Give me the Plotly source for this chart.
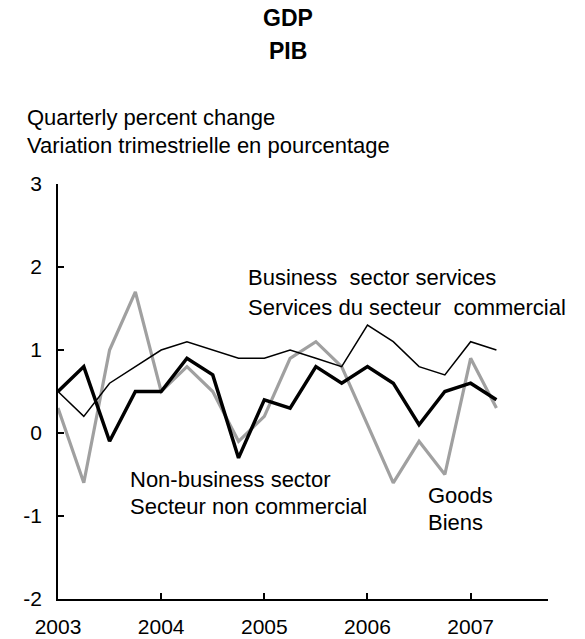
import plotly.graph_objects as go

# ---- data ----
quarters = [2003 + i * 0.25 for i in range(18)]  # 2003Q1 .. 2007Q2
business_services = [0.5, 0.2, 0.6, 0.8, 1.0, 1.1, 1.0, 0.9, 0.9, 1.0, 0.9, 0.8, 1.3, 1.1, 0.8, 0.7, 1.1, 1.0]
non_business = [0.5, 0.8, -0.1, 0.5, 0.5, 0.9, 0.7, -0.3, 0.4, 0.3, 0.8, 0.6, 0.8, 0.6, 0.1, 0.5, 0.6, 0.4]
goods = [0.3, -0.6, 1.0, 1.7, 0.5, 0.8, 0.5, -0.1, 0.2, 0.9, 1.1, 0.8, 0.1, -0.6, -0.1, -0.5, 0.9, 0.3]
year_ticks = [2003, 2004, 2005, 2006, 2007]
year_labels = ["2003", "2004", "2005", "2006", "2007"]
y_ticks = [-2, -1, 0, 1, 2, 3]
y_labels = ["-2", "-1", "0", "1", "2", "3"]

W, H = 585, 639
L, R, T, B = 58, 37, 184, 40
PW, PH = W - L - R, H - T - B

def px(x):
    return (x - L) / PW

def py(y):
    return (H - B - y) / PH

FONT = "Liberation Sans, Arial, Helvetica, sans-serif"

fig = go.Figure()
fig.add_trace(go.Scatter(x=quarters, y=goods, mode="lines",
                         line=dict(color="#a0a0a0", width=3.2), name="Goods"))
fig.add_trace(go.Scatter(x=quarters, y=business_services, mode="lines",
                         line=dict(color="#000000", width=1.5), name="Business sector services"))
fig.add_trace(go.Scatter(x=quarters, y=non_business, mode="lines",
                         line=dict(color="#000000", width=3.5), name="Non-business sector"))

ann = []
def text(t, x, y, size=22, bold=False, xanchor="left"):
    ann.append(dict(text=("<b>%s</b>" % t) if bold else t, x=px(x), y=py(y),
                    xref="paper", yref="paper", xanchor=xanchor, yanchor="middle",
                    showarrow=False, font=dict(size=size, color="black", family=FONT)))

text("GDP", 288, 18, size=23, bold=True, xanchor="center")
text("PIB", 288, 51, size=23, bold=True, xanchor="center")
text("Quarterly percent change", 25, 118)
text("Variation trimestrielle en pourcentage", 25, 145)
text("Business  sector services", 246, 277)
text("Services du secteur  commercial", 246, 307)
text("Non-business sector", 128, 479)
text("Secteur non commercial", 128, 506)
text("Goods", 426, 495)
text("Biens", 426, 522)

fig.update_layout(
    width=W, height=H,
    margin=dict(l=L, r=R, t=T, b=B, pad=0, autoexpand=False),
    paper_bgcolor="white", plot_bgcolor="white",
    showlegend=False,
    font=dict(family=FONT, size=22, color="black"),
    annotations=ann,
    xaxis=dict(range=[2003, 2007.75], tickvals=year_ticks, ticktext=year_labels,
               showgrid=False, zeroline=False, showline=True, linecolor="black", linewidth=1.5,
               ticks="inside", ticklen=6, tickwidth=1.5, tickcolor="black", automargin=False,
               tickfont=dict(size=21), ticklabelstandoff=8),
    yaxis=dict(range=[-2, 3], tickvals=y_ticks, ticktext=y_labels,
               showgrid=False, zeroline=False, showline=True, linecolor="black", linewidth=1.5,
               ticks="inside", ticklen=6, tickwidth=1.5, tickcolor="black", automargin=False,
               tickfont=dict(size=21), ticklabelstandoff=10),
)

fig.write_html("out.html", config={"displayModeBar": False},
               post_script="document.body.style.margin='0';document.body.style.padding='0';")
